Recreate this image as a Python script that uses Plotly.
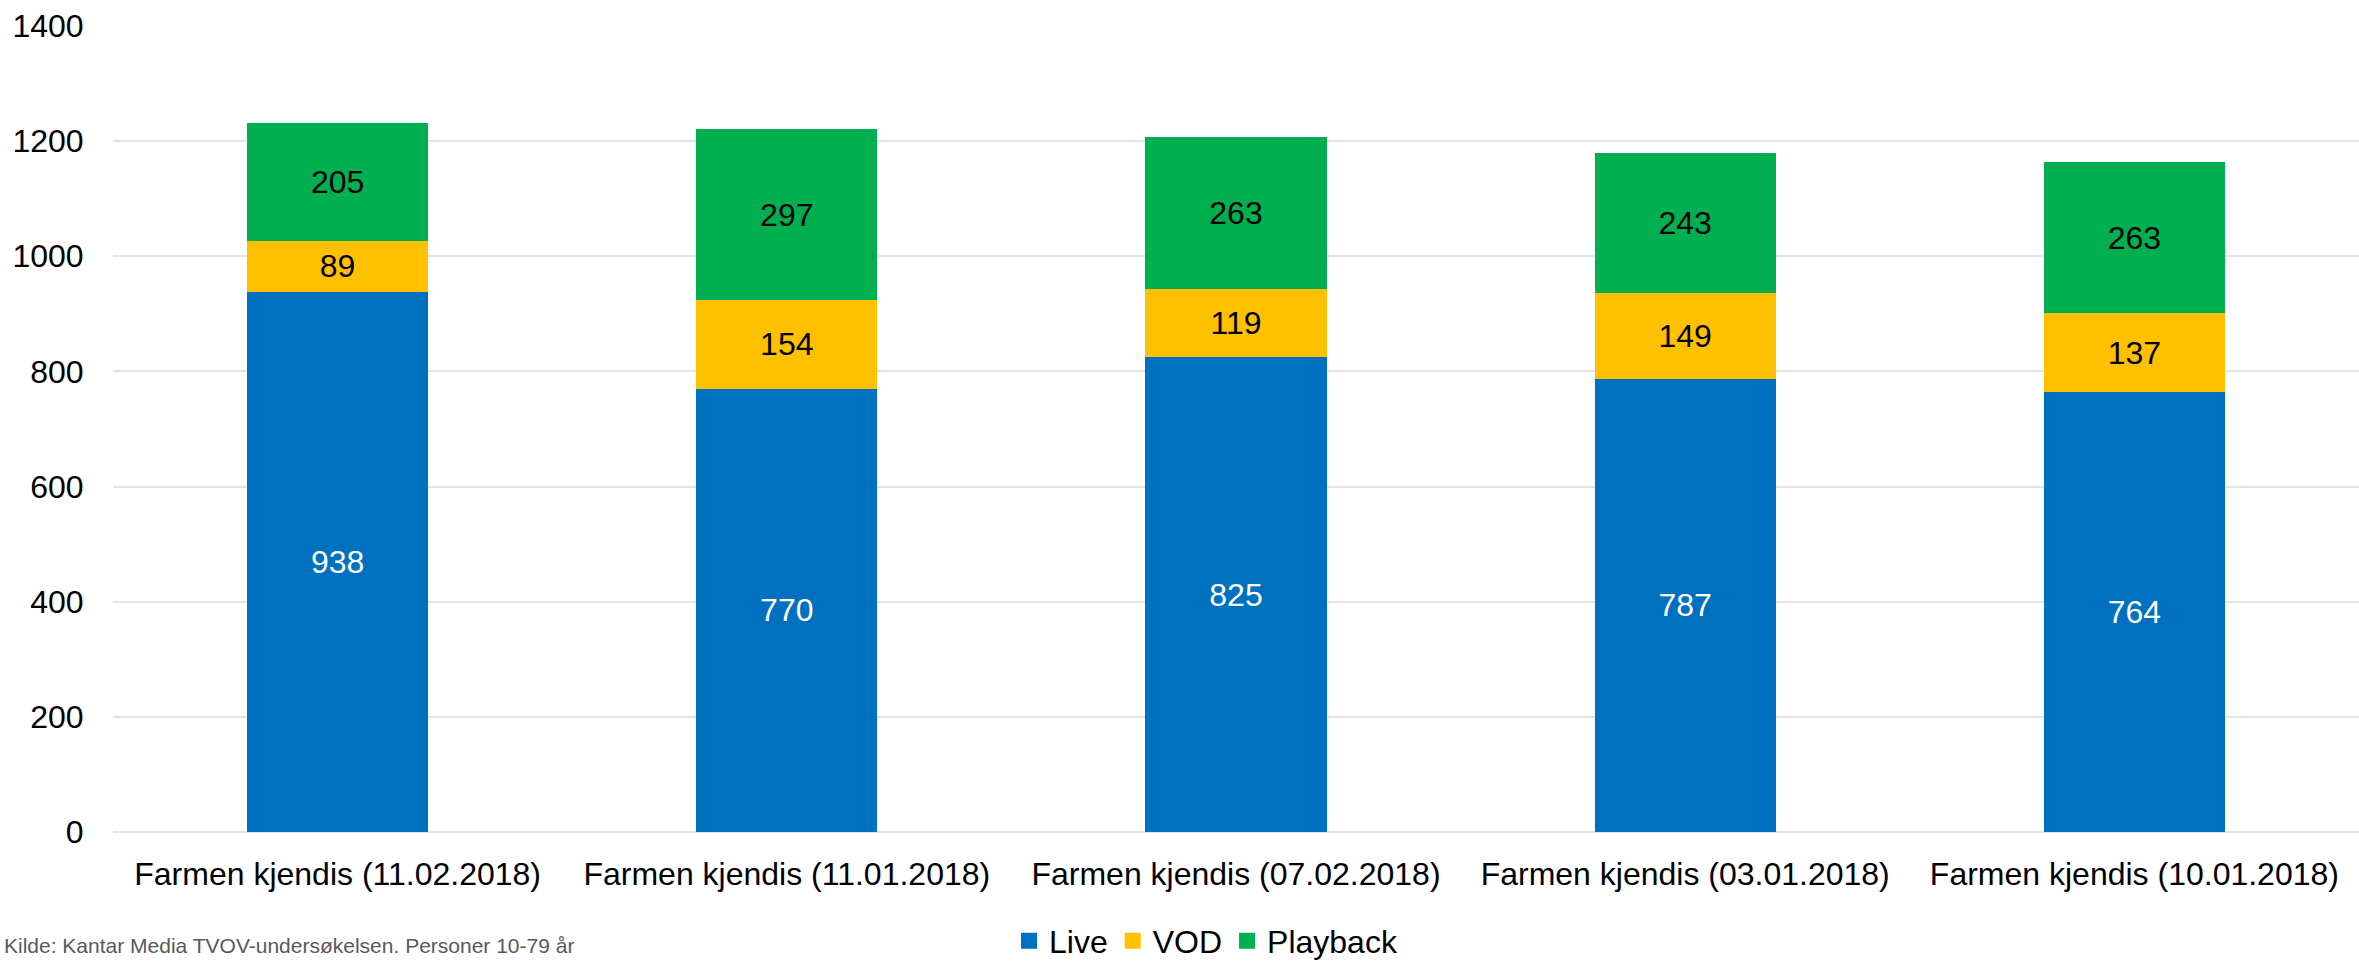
import plotly.graph_objects as go

categories = ["Farmen kjendis (11.02.2018)", "Farmen kjendis (11.01.2018)",
              "Farmen kjendis (07.02.2018)", "Farmen kjendis (03.01.2018)",
              "Farmen kjendis (10.01.2018)"]
live = [938, 770, 825, 787, 764]
vod = [89, 154, 119, 149, 137]
playback = [205, 297, 263, 243, 263]
y_ticks = [0, 200, 400, 600, 800, 1000, 1200, 1400]
footnote = "Kilde: Kantar Media TVOV-undersøkelsen. Personer 10-79 år"

FONT = "Liberation Sans, Arial, sans-serif"
W, H = 2359, 962
L, R, T, B = 113, 0, 26, 130
pw, ph = W - L - R, H - T - B

fig = go.Figure()
series = [("Live", live, "#0070C0", "white"),
          ("VOD", vod, "#FFC000", "black"),
          ("Playback", playback, "#00B050", "black")]
for name, vals, col, tcol in series:
    fig.add_trace(go.Bar(
        name=name, x=categories, y=vals, marker=dict(color=col, line=dict(width=0)),
        text=[str(v) for v in vals], textposition="inside", insidetextanchor="middle",
        textfont=dict(family=FONT, size=32, color=tcol), constraintext="none",
        hoverinfo="skip", showlegend=False))
# legend proxies (bigger square swatches)
for name, vals, col, tcol in series:
    fig.add_trace(go.Scatter(
        name=name, x=[None], y=[None], mode="markers",
        marker=dict(symbol="square", size=16, color=col), showlegend=True))

fig.update_layout(
    width=W, height=H, barmode="stack", bargap=0.597,
    margin=dict(l=L, r=R, t=T, b=B, autoexpand=False),
    paper_bgcolor="white", plot_bgcolor="white",
    font=dict(family=FONT, size=32, color="black"),
    showlegend=True,
    legend=dict(orientation="h", x=(1206 - L) / pw, xanchor="center",
                y=(T + ph - 941) / ph, yanchor="middle",
                font=dict(family=FONT, size=32, color="black"),
                traceorder="normal", itemwidth=30, tracegroupgap=0),
    xaxis=dict(showgrid=False, showline=False, zeroline=False,
               ticks="outside", ticklen=14, tickcolor="rgba(0,0,0,0)",
               tickfont=dict(family=FONT, size=32, color="black")),
    yaxis=dict(range=[0, 1400], tickvals=y_ticks, showgrid=True,
               gridcolor="#E4E4E4", gridwidth=2, zeroline=True,
               zerolinecolor="#E4E4E4", zerolinewidth=2, showline=False,
               ticks="outside", ticklen=22, tickcolor="rgba(0,0,0,0)",
               tickfont=dict(family=FONT, size=32, color="black")),
)
fig.add_annotation(text=footnote, xref="paper", yref="paper",
                   x=(2 - L) / pw, xanchor="left",
                   y=(T + ph - 959) / ph, yanchor="bottom", showarrow=False,
                   font=dict(family=FONT, size=21, color="#595959"))

fig.write_html("out.html", config={"displayModeBar": False},
               post_script="document.body.style.margin='0';document.body.style.overflow='hidden';")
